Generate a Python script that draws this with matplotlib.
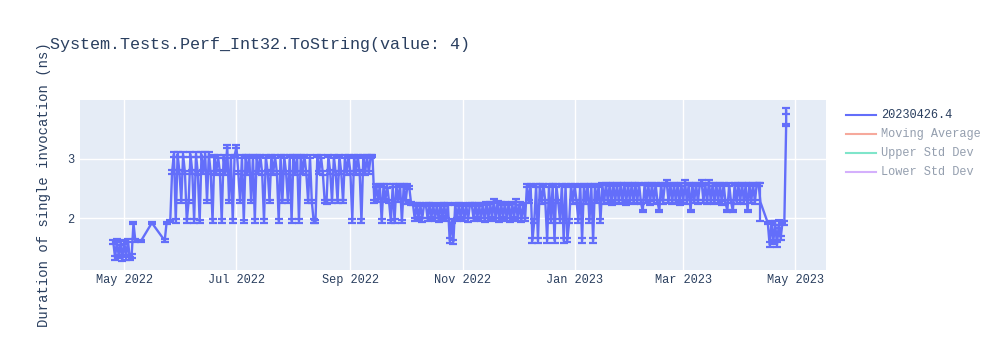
import matplotlib
matplotlib.use("Agg")
import matplotlib.pyplot as plt
import matplotlib.dates as mdates
from matplotlib.lines import Line2D
import pandas as pd

TITLE = "System.Tests.Perf_Int32.ToString(value: 4)"
Y_TITLE = "Duration of single invocation (ns)"

legend_names = ["20230426.4", "Moving Average", "Upper Std Dev", "Lower Std Dev"]
legend_colors = ["#636efa", "#EF553B", "#00cc96", "#ab63fa"]

# one row per benchmark run
dates = [
    "2022-04-25", "2022-04-26", "2022-04-27", "2022-04-28", "2022-04-29", "2022-04-30",
    "2022-05-01", "2022-05-02", "2022-05-03", "2022-05-04", "2022-05-05",
    "2022-05-06", "2022-05-07", "2022-05-10", "2022-05-16", "2022-05-23", "2022-05-24", "2022-05-26",
    "2022-05-27", "2022-05-28", "2022-05-29", "2022-05-30", "2022-05-31",
    # Jun
    "2022-06-01", "2022-06-02", "2022-06-03", "2022-06-04", "2022-06-05", "2022-06-06", "2022-06-07",
    "2022-06-08", "2022-06-09", "2022-06-10", "2022-06-11", "2022-06-12", "2022-06-13", "2022-06-14",
    "2022-06-15", "2022-06-16", "2022-06-17", "2022-06-18", "2022-06-19", "2022-06-20", "2022-06-21",
    "2022-06-22", "2022-06-23", "2022-06-24", "2022-06-25", "2022-06-26", "2022-06-27", "2022-06-28",
    "2022-06-29", "2022-06-30",
    # Jul
    "2022-07-01", "2022-07-02", "2022-07-03", "2022-07-04", "2022-07-05", "2022-07-06", "2022-07-07",
    "2022-07-08", "2022-07-09", "2022-07-10", "2022-07-11", "2022-07-12", "2022-07-13", "2022-07-14",
    "2022-07-15", "2022-07-16", "2022-07-17", "2022-07-18", "2022-07-19", "2022-07-20", "2022-07-21",
    "2022-07-22", "2022-07-23", "2022-07-24", "2022-07-25", "2022-07-26", "2022-07-27", "2022-07-28",
    "2022-07-29", "2022-07-30", "2022-07-31",
    # Aug
    "2022-08-01", "2022-08-02", "2022-08-03", "2022-08-04", "2022-08-05", "2022-08-06", "2022-08-07",
    "2022-08-08", "2022-08-09", "2022-08-10", "2022-08-11", "2022-08-12", "2022-08-13", "2022-08-14",
    "2022-08-15", "2022-08-16", "2022-08-17", "2022-08-18", "2022-08-19", "2022-08-20", "2022-08-21",
    "2022-08-22", "2022-08-23", "2022-08-24", "2022-08-25", "2022-08-26", "2022-08-27", "2022-08-28",
    "2022-08-29", "2022-08-30", "2022-08-31",
    # Sep
    "2022-09-01", "2022-09-02", "2022-09-03", "2022-09-04", "2022-09-05", "2022-09-06", "2022-09-07",
    "2022-09-08", "2022-09-09", "2022-09-10", "2022-09-11", "2022-09-12", "2022-09-13",
    "2022-09-14", "2022-09-15", "2022-09-16", "2022-09-17", "2022-09-18", "2022-09-19", "2022-09-20",
    "2022-09-21", "2022-09-22", "2022-09-23", "2022-09-24", "2022-09-25", "2022-09-26", "2022-09-27",
    "2022-09-28", "2022-09-29", "2022-09-30",
    # Oct
    "2022-10-01", "2022-10-02", "2022-10-03", "2022-10-04",
    "2022-10-05", "2022-10-06", "2022-10-07", "2022-10-08", "2022-10-09", "2022-10-10", "2022-10-11",
    "2022-10-12", "2022-10-13", "2022-10-14", "2022-10-15", "2022-10-16", "2022-10-17", "2022-10-18",
    "2022-10-19", "2022-10-20", "2022-10-21", "2022-10-22", "2022-10-23", "2022-10-24", "2022-10-25",
    "2022-10-26", "2022-10-27", "2022-10-28", "2022-10-29", "2022-10-30", "2022-10-31",
    # Nov
    "2022-11-01", "2022-11-02", "2022-11-03", "2022-11-04", "2022-11-05", "2022-11-06", "2022-11-07",
    "2022-11-08", "2022-11-09", "2022-11-10", "2022-11-11", "2022-11-12", "2022-11-13", "2022-11-14",
    "2022-11-15", "2022-11-16", "2022-11-17", "2022-11-18", "2022-11-19", "2022-11-20", "2022-11-21",
    "2022-11-22", "2022-11-23", "2022-11-24", "2022-11-25", "2022-11-26", "2022-11-27", "2022-11-28",
    "2022-11-29", "2022-11-30",
    # Dec
    "2022-12-01", "2022-12-02", "2022-12-03", "2022-12-04", "2022-12-05",
    "2022-12-06", "2022-12-07", "2022-12-08", "2022-12-09", "2022-12-10", "2022-12-11", "2022-12-12",
    "2022-12-13", "2022-12-14", "2022-12-15", "2022-12-16", "2022-12-17", "2022-12-18", "2022-12-19",
    "2022-12-20", "2022-12-21", "2022-12-22", "2022-12-23", "2022-12-24", "2022-12-25", "2022-12-26",
    "2022-12-27", "2022-12-28", "2022-12-29", "2022-12-30", "2022-12-31",
    # Jan 2023
    "2023-01-01", "2023-01-02", "2023-01-03", "2023-01-04", "2023-01-05", "2023-01-06", "2023-01-07",
    "2023-01-08", "2023-01-09", "2023-01-10", "2023-01-11", "2023-01-12", "2023-01-13", "2023-01-14",
    "2023-01-15", "2023-01-16", "2023-01-17", "2023-01-18", "2023-01-19", "2023-01-20", "2023-01-21",
    "2023-01-22", "2023-01-23", "2023-01-24", "2023-01-25", "2023-01-26", "2023-01-27", "2023-01-28",
    "2023-01-29", "2023-01-30", "2023-01-31",
    # Feb
    "2023-02-01", "2023-02-02", "2023-02-03", "2023-02-04", "2023-02-05", "2023-02-06", "2023-02-07",
    "2023-02-08", "2023-02-09", "2023-02-10", "2023-02-11", "2023-02-12", "2023-02-13", "2023-02-14",
    "2023-02-15", "2023-02-16", "2023-02-17", "2023-02-18", "2023-02-19", "2023-02-20", "2023-02-21",
    "2023-02-22", "2023-02-23", "2023-02-24", "2023-02-25", "2023-02-26", "2023-02-27", "2023-02-28",
    # Mar
    "2023-03-01", "2023-03-02", "2023-03-03", "2023-03-04", "2023-03-05", "2023-03-06", "2023-03-07",
    "2023-03-08", "2023-03-09", "2023-03-10", "2023-03-11", "2023-03-12", "2023-03-13", "2023-03-14",
    "2023-03-15", "2023-03-16", "2023-03-17", "2023-03-18", "2023-03-19", "2023-03-20", "2023-03-21",
    "2023-03-22", "2023-03-23", "2023-03-24", "2023-03-25", "2023-03-26", "2023-03-27", "2023-03-28",
    "2023-03-29", "2023-03-30", "2023-03-31",
    # Apr
    "2023-04-01", "2023-04-02", "2023-04-03", "2023-04-04", "2023-04-05", "2023-04-06", "2023-04-07",
    "2023-04-08", "2023-04-09", "2023-04-10", "2023-04-11", "2023-04-12",
    "2023-04-16", "2023-04-17", "2023-04-18", "2023-04-19", "2023-04-20", "2023-04-21", "2023-04-22",
    "2023-04-23", "2023-04-24", "2023-04-25", "2023-04-26", "2023-04-26",
]

durations = [
    1.60, 1.33, 1.62, 1.35, 1.58, 1.31, 1.60, 1.34, 1.62, 1.32, 1.36,
    1.92, 1.62, 1.61, 1.92, 1.62, 1.92, 1.95,
    2.78, 3.08, 1.95, 3.08, 2.78,
    # Jun
    2.28, 3.07, 2.77, 1.95, 2.28, 3.08, 2.78, 1.95, 3.08, 2.76, 1.94, 3.07, 2.78, 3.08, 2.28,
    3.08, 2.77, 1.95, 3.05, 2.76, 3.04, 2.78, 1.95, 3.04, 2.76, 3.21, 2.28, 3.04, 1.95, 3.05,
    # Jul
    3.21, 2.77, 2.28, 3.04, 1.94, 3.05, 2.76, 3.04, 2.28, 3.05, 1.95, 3.04, 2.77, 3.05, 2.76, 1.95,
    3.04, 2.78, 2.28, 3.05, 2.76, 3.04, 2.77, 1.95, 3.05, 2.28, 3.04, 2.77, 2.28, 3.05, 1.95,
    # Aug
    3.04, 2.76, 3.05, 1.95, 3.04, 2.77, 3.05, 2.76, 2.28, 3.04, 2.28, 1.95, 1.94, 3.05, 2.77, 3.04,
    2.76, 2.28, 2.27, 3.05, 2.78, 2.28, 3.04, 2.76, 2.28, 3.05, 2.77, 2.28, 3.04, 2.76, 3.05,
    # Sep
    2.77, 1.95, 3.04, 2.76, 3.05, 2.78, 1.95, 3.04, 2.76, 3.05, 2.77, 3.04, 3.05,
    2.28, 2.55, 2.30, 2.56, 1.95, 2.55, 2.30, 2.54, 2.28, 1.94, 2.55, 1.95, 2.55, 2.30, 2.56, 1.94, 2.55,
    # Oct
    2.27, 2.55, 2.52, 2.25,
    2.24, 1.98, 2.23, 1.99, 2.24, 1.97, 2.22, 2.24, 1.98, 2.23, 1.99, 2.24, 1.98, 2.22,
    1.97, 2.24, 2.00, 2.23, 1.98, 2.24, 1.62, 1.95, 1.60, 2.24, 1.98, 2.23, 1.99,
    # Nov
    2.24, 1.98, 2.22, 1.97, 2.24, 2.23, 1.98, 2.24, 1.99, 2.23, 1.98, 2.24, 1.97, 2.25, 1.98,
    2.26, 1.99, 2.30, 1.98, 2.27, 1.97, 2.25, 1.99, 2.26, 1.98, 2.24, 1.97, 2.26, 1.99, 2.30,
    # Dec
    1.98, 2.25, 1.97, 2.24, 1.98,
    2.55, 2.28, 2.56, 1.62, 1.95, 2.55, 1.62, 2.55, 2.27, 2.56, 2.28, 1.62, 2.55,
    1.95, 2.56, 1.62, 2.55, 2.28, 1.95, 2.56, 1.62, 2.55, 1.63, 1.95, 2.56, 2.27,
    # Jan 2023
    2.55, 2.28, 1.95, 2.56, 1.62, 2.55, 2.27, 2.56, 1.95, 2.55, 1.62, 2.56, 2.28, 2.55, 1.95, 2.58,
    2.27, 2.58, 2.28, 2.57, 2.26, 2.58, 2.28, 2.57, 2.27, 2.58, 2.28, 2.58, 2.26, 2.57, 2.28,
    # Feb
    2.58, 2.27, 2.57, 2.28, 2.58, 2.27, 2.12, 2.58, 2.28, 2.57, 2.26, 2.58, 2.27, 2.57,
    2.28, 2.12, 2.58, 2.27, 2.57, 2.62, 2.28, 2.58, 2.27, 2.57, 2.28, 2.58, 2.26, 2.57,
    # Mar
    2.28, 2.62, 2.27, 2.58, 2.12, 2.57, 2.28, 2.58, 2.27, 2.57, 2.62, 2.28, 2.58, 2.27, 2.62, 2.28,
    2.57, 2.27, 2.58, 2.28, 2.57, 2.26, 2.58, 2.27, 2.12, 2.57, 2.28, 2.12, 2.58, 2.27, 2.57,
    # Apr
    2.28, 2.58, 2.27, 2.57, 2.12, 2.58, 2.28, 2.57, 2.27, 2.58, 2.57, 2.27,
    1.92, 1.55, 1.93, 1.60, 1.92, 1.55, 1.90, 1.66, 1.93, 1.92, 3.57, 3.81,
]

errors = [
    0.03, 0.03, 0.03, 0.03, 0.04, 0.03, 0.03, 0.04, 0.02, 0.03, 0.03,
    0.02, 0.02, 0.02, 0.02, 0.02, 0.02, 0.02,
    0.03, 0.04, 0.03, 0.04, 0.03,
    # Jun
    0.03, 0.04, 0.03, 0.03, 0.03, 0.04, 0.03, 0.03, 0.04, 0.03, 0.03, 0.04, 0.03, 0.04, 0.03,
    0.04, 0.03, 0.03, 0.02, 0.03, 0.02, 0.03, 0.03, 0.02, 0.03, 0.03, 0.03, 0.02, 0.03, 0.02,
    # Jul
    0.03, 0.03, 0.03, 0.02, 0.03, 0.02, 0.03, 0.02, 0.03, 0.02, 0.03, 0.02, 0.03, 0.02, 0.03, 0.03,
    0.02, 0.03, 0.03, 0.02, 0.03, 0.02, 0.03, 0.03, 0.02, 0.03, 0.02, 0.03, 0.03, 0.02, 0.03,
    # Aug
    0.02, 0.03, 0.02, 0.03, 0.02, 0.03, 0.02, 0.03, 0.03, 0.02, 0.03, 0.03, 0.03, 0.02, 0.03, 0.02,
    0.03, 0.03, 0.03, 0.02, 0.03, 0.03, 0.02, 0.03, 0.03, 0.02, 0.03, 0.03, 0.02, 0.03, 0.02,
    # Sep
    0.03, 0.03, 0.02, 0.03, 0.02, 0.03, 0.03, 0.02, 0.03, 0.02, 0.03, 0.02, 0.02,
    0.03, 0.03, 0.03, 0.02, 0.03, 0.03, 0.03, 0.03, 0.03, 0.03, 0.03, 0.03, 0.03, 0.03, 0.02, 0.03, 0.03,
    # Oct
    0.03, 0.03, 0.03, 0.03,
    0.02, 0.03, 0.02, 0.03, 0.02, 0.03, 0.02, 0.02, 0.03, 0.02, 0.03, 0.02, 0.03, 0.02,
    0.03, 0.02, 0.03, 0.02, 0.03, 0.02, 0.04, 0.03, 0.03, 0.02, 0.03, 0.02, 0.03,
    # Nov
    0.02, 0.03, 0.02, 0.03, 0.02, 0.02, 0.03, 0.02, 0.03, 0.02, 0.03, 0.02, 0.03, 0.02, 0.03,
    0.02, 0.03, 0.03, 0.03, 0.02, 0.03, 0.02, 0.03, 0.02, 0.03, 0.02, 0.03, 0.02, 0.03, 0.03,
    # Dec
    0.03, 0.02, 0.03, 0.02, 0.03,
    0.03, 0.03, 0.02, 0.04, 0.03, 0.03, 0.04, 0.03, 0.03, 0.02, 0.03, 0.04, 0.03,
    0.03, 0.02, 0.04, 0.03, 0.03, 0.03, 0.02, 0.04, 0.03, 0.04, 0.03, 0.02, 0.03,
    # Jan 2023
    0.03, 0.03, 0.03, 0.02, 0.04, 0.03, 0.03, 0.02, 0.03, 0.03, 0.04, 0.02, 0.03, 0.03, 0.03, 0.02,
    0.03, 0.02, 0.03, 0.02, 0.03, 0.02, 0.03, 0.02, 0.03, 0.02, 0.03, 0.02, 0.03, 0.02, 0.03,
    # Feb
    0.02, 0.03, 0.02, 0.03, 0.02, 0.03, 0.02, 0.02, 0.03, 0.02, 0.03, 0.02, 0.03, 0.02,
    0.03, 0.02, 0.02, 0.03, 0.02, 0.02, 0.03, 0.02, 0.03, 0.02, 0.03, 0.02, 0.03, 0.02,
    # Mar
    0.03, 0.02, 0.03, 0.02, 0.02, 0.02, 0.03, 0.02, 0.03, 0.02, 0.02, 0.03, 0.02, 0.03, 0.02, 0.03,
    0.02, 0.03, 0.02, 0.03, 0.02, 0.03, 0.02, 0.03, 0.02, 0.02, 0.03, 0.02, 0.02, 0.03, 0.02,
    # Apr
    0.03, 0.02, 0.03, 0.02, 0.02, 0.02, 0.03, 0.02, 0.03, 0.02, 0.02, 0.32,
    0.02, 0.04, 0.02, 0.03, 0.03, 0.04, 0.06, 0.03, 0.02, 0.03, 0.02, 0.05,
]

assert len(dates) == len(durations) == len(errors), (len(dates), len(durations), len(errors))

TEXT = "#2a3f5f"
plt.rcParams["font.family"] = ["Liberation Mono", "DejaVu Sans Mono"]

fig = plt.figure(figsize=(10, 3.5), dpi=100)
ax = fig.add_axes([0.08, 80 / 350, 0.746, 170 / 350])
ax.set_facecolor("#E5ECF6")

x = pd.to_datetime(dates)
ax.errorbar(x, durations, yerr=errors, color=legend_colors[0], lw=1.7,
            elinewidth=1.6, capsize=2.8, capthick=1.6, zorder=3)

ax.set_xlim(pd.Timestamp("2022-04-06 22:00"), pd.Timestamp("2023-05-17 16:00"))
ax.set_ylim(1.124, 3.995)
ax.set_yticks([2, 3])
ax.xaxis.set_major_locator(mdates.MonthLocator(bymonth=[1, 3, 5, 7, 9, 11]))
ax.xaxis.set_major_formatter(mdates.DateFormatter("%b %Y"))
ax.grid(True, color="white", lw=1)
ax.set_axisbelow(True)
for s in ax.spines.values():
    s.set_visible(False)
ax.tick_params(axis="both", length=0, labelsize=8.6, labelcolor=TEXT)
ax.tick_params(axis="x", pad=3)
ax.tick_params(axis="y", pad=4)

fig.text(0.05, 1 - 45 / 350, TITLE, fontsize=12.1, color=TEXT, va="center")
fig.text(0.044, 1 - 185 / 350, Y_TITLE, fontsize=10, color=TEXT,
         rotation=90, va="center", ha="center")

# legend: only the first trace is visible, the rest are toggled off
row_y = [115, 134, 152.7, 171.7]
for i, (name, color) in enumerate(zip(legend_names, legend_colors)):
    alpha = 1.0 if i == 0 else 0.5
    yy = 1 - row_y[i] / 350
    fig.add_artist(Line2D([0.846, 0.8755], [yy, yy], transform=fig.transFigure,
                          color=color, lw=1.5, alpha=alpha))
    fig.text(0.881, yy, name, fontsize=8.6, color=TEXT, alpha=alpha, va="center")

fig.savefig("out.png", dpi=100)
